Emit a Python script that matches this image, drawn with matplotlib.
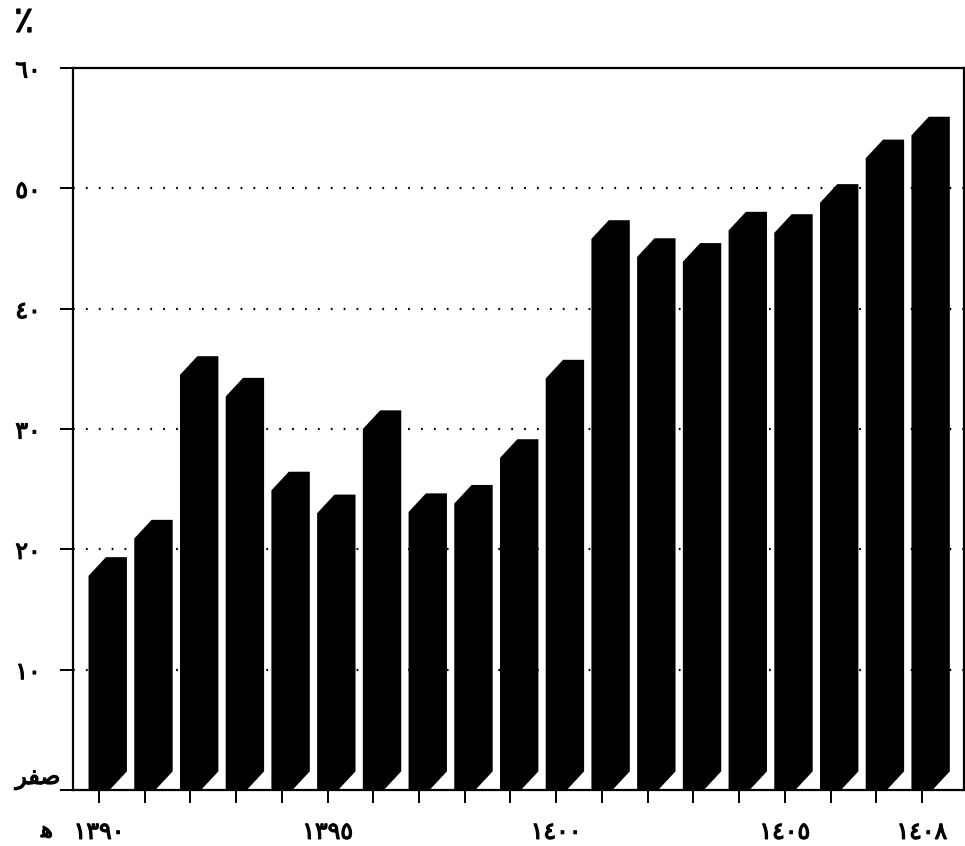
import matplotlib
matplotlib.use("Agg")
import matplotlib.pyplot as plt
import matplotlib.patheffects as pe

# Hijri years and percentage values
years = list(range(1390, 1409))
values = [17.8, 20.9, 34.5, 32.7, 24.9, 23.0, 30.0, 23.1, 23.8, 27.6,
          34.2, 45.8, 44.3, 43.9, 46.5, 46.3, 48.8, 52.5, 54.4]

y_ticks = [0, 10, 20, 30, 40, 50, 60]
y_tick_labels = ["\uFEAE\uFED4\uFEBB", "١٠", "٢٠", "٣٠", "٤٠", "٥٠", "٦٠"]
x_label_years = [1390, 1395, 1400, 1405, 1408]
x_label_text = ["١٣٩٠", "١٣٩٥", "١٤٠٠", "١٤٠٥", "١٤٠٨"]

plt.rcParams["font.family"] = ["DejaVu Sans"]
heavy = [pe.withStroke(linewidth=0.9, foreground="black")]

fig = plt.figure(figsize=(9.65, 8.46), dpi=100)
ax = fig.add_axes([73 / 965, 1 - 790 / 846, (964 - 73) / 965, (790 - 68) / 846])

ax.set_xlim(1389.43, 1408.92)
ax.set_ylim(0, 60)

# dotted reference lines behind the bars
for g in y_ticks[1:-1]:
    ax.axhline(g, color="black", lw=1.6, dashes=(0.8, 5), zorder=1)

# pseudo-3D extruded bars
hw = 0.23      # half width of the front face (years)
dx = 0.38      # depth offset, x (years)
dy = 1.55      # depth offset, y (percent)
for yr, v in zip(years, values):
    xs = [yr - hw, yr - hw, yr - hw + dx, yr + hw + dx, yr + hw + dx, yr + hw]
    ys = [0, v, v + dy, v + dy, dy, 0]
    ax.fill(xs, ys, color="black", lw=0, zorder=3)

for s in ax.spines.values():
    s.set_linewidth(1.6)
    s.set_zorder(5)

ax.set_yticks(y_ticks)
ax.set_yticklabels(y_tick_labels)
ax.tick_params(axis="y", direction="out", length=9.5, width=1.4, pad=32, labelsize=17)
for lbl in ax.get_yticklabels():
    lbl.set_horizontalalignment("left")
    lbl.set_path_effects(heavy)
ax.get_yticklabels()[0].set_verticalalignment("bottom")

ax.set_xticks(years)
ax.set_xticklabels([x_label_text[x_label_years.index(y)] if y in x_label_years else ""
                    for y in years])
ax.tick_params(axis="x", direction="out", length=9.5, width=1.4, pad=12, labelsize=17)
for lbl in ax.get_xticklabels():
    lbl.set_path_effects(heavy)

# era marker beside the first year label and the unit sign above the axis
fig.text(47 / 965, 1 - 831 / 846, "\uFEEB", fontsize=16,
         ha="center", va="center", path_effects=heavy)
fig.text(24 / 965, 1 - 22 / 846, "٪", fontsize=26, ha="center", va="center",
         path_effects=heavy)

fig.savefig("out.png", dpi=100)
